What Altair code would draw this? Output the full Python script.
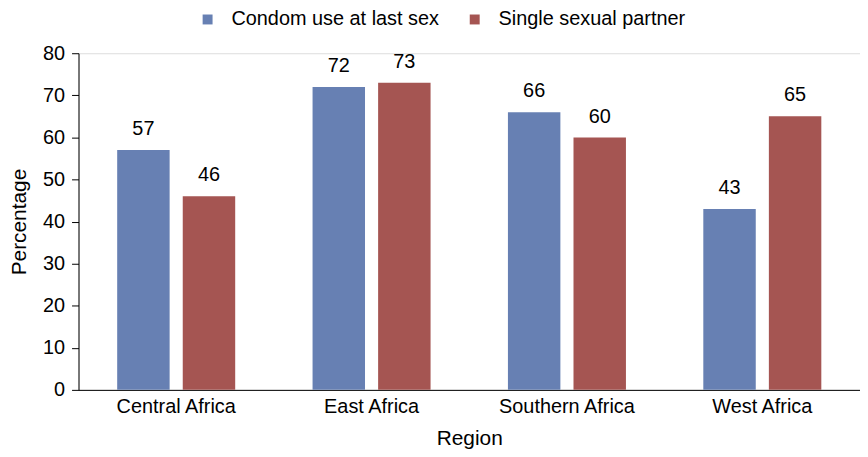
import altair as alt
import pandas as pd

regions = ["Central Africa", "East Africa", "Southern Africa", "West Africa"]
series = ["Condom use at last sex", "Single sexual partner"]
condom = [57, 72, 66, 43]
single = [46, 73, 60, 65]
colors = ["#6780B3", "#A55552"]

rows = []
for i, r in enumerate(regions):
    rows.append({"Region": r, "Series": series[0], "Value": condom[i]})
    rows.append({"Region": r, "Series": series[1], "Value": single[i]})
df = pd.DataFrame(rows)

FONT = "Liberation Sans"

base = alt.Chart(df).encode(
    x=alt.X("Region:N", sort=regions, title="Region",
            scale=alt.Scale(paddingInner=0, paddingOuter=0),
            axis=alt.Axis(labelAngle=0, ticks=False, labelPadding=7, titlePadding=11)),
    xOffset=alt.XOffset("Series:N", sort=series,
                        scale=alt.Scale(paddingInner=0.2, paddingOuter=0.59)),
    y=alt.Y("Value:Q", title="Percentage",
            scale=alt.Scale(domain=[0, 80]),
            axis=alt.Axis(values=list(range(0, 81, 10)), grid=False, tickSize=7,
                          labelPadding=7, titlePadding=13)),
)

bars = base.mark_bar().encode(
    color=alt.Color("Series:N", sort=series,
                    scale=alt.Scale(domain=series, range=colors),
                    legend=alt.Legend(title=None, orient="none", direction="horizontal",
                                      legendX=120, legendY=-44,
                                      symbolType="square", symbolSize=100,
                                      labelFontSize=20, labelFont=FONT, labelColor="black",
                                      labelLimit=400, columnPadding=26, symbolStrokeWidth=0,
                                      labelOffset=14)),
)

labels = base.mark_text(baseline="alphabetic", dy=-15, fontSize=20, font=FONT, color="black").encode(
    text=alt.Text("Value:Q"),
)

chart = (bars + labels).properties(
    width=787, height=339, padding=0
).configure_view(stroke=None).configure(font=FONT).configure_axis(
    labelFontSize=20, titleFontSize=21, labelColor="black", titleColor="black",
    titleFontWeight="normal", labelFont=FONT, titleFont=FONT,
    domainColor="black", tickColor="black"
)

chart.save("out.html", embed_options={"renderer": "svg", "actions": False})
